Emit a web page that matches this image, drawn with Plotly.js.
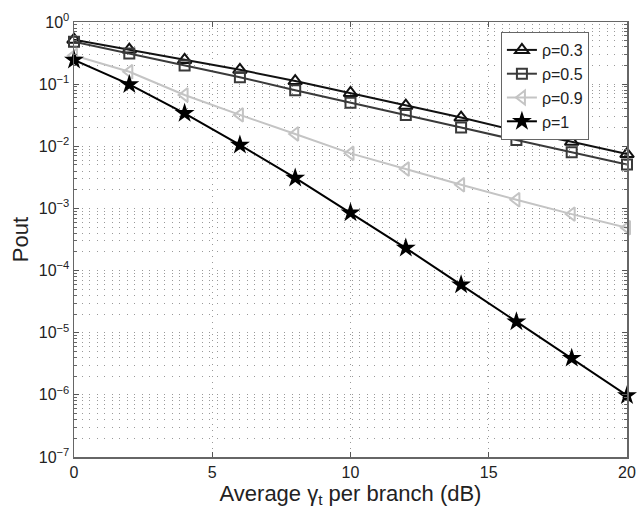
<!DOCTYPE html>
<html>
<head>
<meta charset="utf-8">
<script src="https://cdn.plot.ly/plotly-3.0.1.min.js"></script>
<style>html,body{margin:0;padding:0;background:#fff;}#chart{width:638px;height:509px;}</style>
</head>
<body>
<div id="chart"></div>
<script>
// Data
var snr = [0, 2, 4, 6, 8, 10, 12, 14, 16, 18, 20];
var pout_rho03 = [0.52, 0.36, 0.245, 0.17, 0.112, 0.072, 0.045, 0.029, 0.0177, 0.0118, 0.0075];
var pout_rho05 = [0.48, 0.31, 0.20, 0.129, 0.080, 0.050, 0.032, 0.020, 0.0126, 0.0080, 0.0051];
var pout_rho09 = [0.29, 0.158, 0.067, 0.032, 0.0158, 0.0077, 0.0043, 0.0024, 0.00138, 0.00081, 0.00049];
var pout_rho1  = [0.245, 0.099, 0.034, 0.0105, 0.0031, 0.00085, 0.00023, 0.000059, 0.000015, 0.0000039, 0.00000098];

var seriesNames = ['ρ=0.3', 'ρ=0.5', 'ρ=0.9', 'ρ=1'];

var xTickVals = [0, 5, 10, 15, 20];
var yTickVals = [1e-7, 1e-6, 1e-5, 1e-4, 1e-3, 1e-2, 1e-1, 1e0];
var yTickText = ['10<sup>−7</sup>', '10<sup>−6</sup>', '10<sup>−5</sup>', '10<sup>−4</sup>',
                 '10<sup>−3</sup>', '10<sup>−2</sup>', '10<sup>−1</sup>', '10<sup>0</sup>'];

// minor log ticks 2..9 in every decade
var yMinorVals = [];
for (var e = -7; e < 0; e++) {
  for (var m = 2; m <= 9; m++) yMinorVals.push(m * Math.pow(10, e));
}

var font = 'Liberation Sans, Arial, sans-serif';

var traces = [
  {x: snr, y: pout_rho03, name: seriesNames[0], mode: 'lines+markers', cliponaxis: false,
   line: {color: '#111111', width: 2},
   marker: {symbol: 'triangle-up-open', size: 12, color: '#111111', line: {width: 2}}},
  {x: snr, y: pout_rho05, name: seriesNames[1], mode: 'lines+markers', cliponaxis: false,
   line: {color: '#3a3a3a', width: 2},
   marker: {symbol: 'square-open', size: 10, color: '#3a3a3a', line: {width: 2}}},
  {x: snr, y: pout_rho09, name: seriesNames[2], mode: 'lines+markers', cliponaxis: false,
   line: {color: '#c4c4c4', width: 2},
   marker: {symbol: 'triangle-left-open', size: 12, color: '#c4c4c4', line: {width: 2}}},
  {x: snr, y: pout_rho1, name: seriesNames[3], mode: 'lines+markers', cliponaxis: false,
   line: {color: '#000000', width: 2},
   marker: {symbol: 'star', size: 15, color: '#000000', line: {width: 0}}}
];

var layout = {
  width: 638, height: 509,
  margin: {l: 74, r: 11, t: 22, b: 52},
  paper_bgcolor: '#ffffff', plot_bgcolor: '#ffffff',
  font: {family: font, size: 15, color: '#222'},
  showlegend: true,
  legend: {x: 0.772, y: 0.977, xanchor: 'left', yanchor: 'top', entrywidth: 106,
           bgcolor: '#ffffff', bordercolor: '#666', borderwidth: 1,
           font: {family: font, size: 16, color: '#222'}, tracegroupgap: 0},
  xaxis: {
    range: [0, 20], tickmode: 'array', tickvals: xTickVals,
    ticks: 'inside', ticklen: 5, tickcolor: '#555', mirror: 'ticks',
    showline: true, linecolor: '#666', linewidth: 1.5,
    showgrid: true, gridcolor: '#999', griddash: '1px,5px', gridwidth: 1,
    zeroline: false,
    tickfont: {family: font, size: 16, color: '#222'},
    title: {text: 'Average γ<sub>t</sub> per branch (dB)', font: {family: font, size: 22, color: '#222'}, standoff: 2}
  },
  yaxis: {
    type: 'log', range: [-7, 0], tickmode: 'array', tickvals: yTickVals, ticktext: yTickText,
    ticks: 'inside', ticklen: 5, tickcolor: '#555', mirror: 'ticks',
    showline: true, linecolor: '#666', linewidth: 1.5,
    showgrid: true, gridcolor: '#999', griddash: '1px,6.5px', gridwidth: 1,
    zeroline: false,
    tickfont: {family: font, size: 16, color: '#222'},
    minor: {tickmode: 'array', tickvals: yMinorVals, ticks: 'inside', ticklen: 3, tickcolor: '#666',
            showgrid: true, gridcolor: '#999', griddash: '1px,6.5px', gridwidth: 1},
    title: {text: 'Pout', font: {family: font, size: 22, color: '#222'}, standoff: 4}
  }
};

Plotly.newPlot('chart', traces, layout, {displayModeBar: false, staticPlot: true});
</script>
</body>
</html>
